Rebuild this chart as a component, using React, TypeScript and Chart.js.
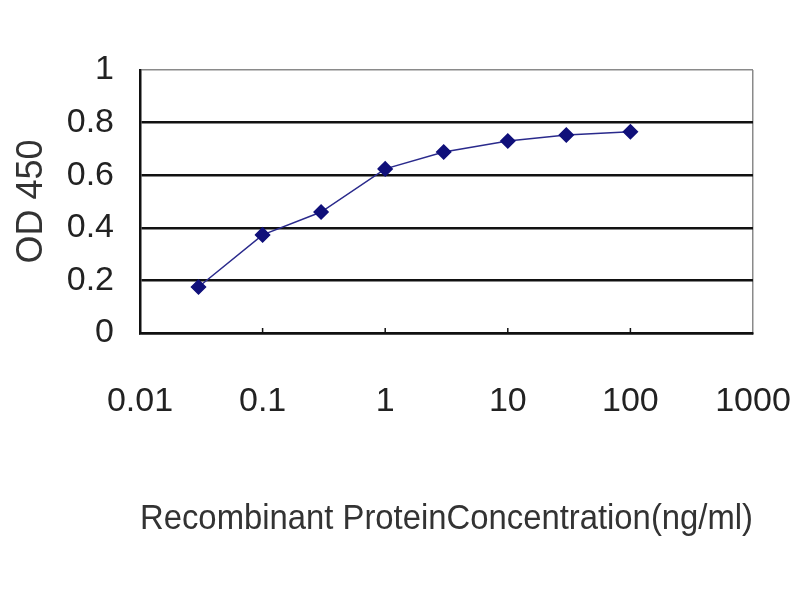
import React, { useEffect, useRef } from "react";
import { Chart, registerables } from "chart.js";

Chart.register(...registerables);

const concentrations = [0.03, 0.1, 0.3, 1, 3, 10, 30, 100];
const odValues = [0.175, 0.373, 0.46, 0.624, 0.688, 0.73, 0.753, 0.765];
const xTickValues = [0.01, 0.1, 1, 10, 100, 1000];
const yTickValues = [0, 0.2, 0.4, 0.6, 0.8, 1];
const xTitle = "Recombinant ProteinConcentration(ng/ml)";
const yTitle = "OD 450";

const FONT = "'Liberation Sans', Arial, sans-serif";

const innerTicks = {
  id: "innerTicks",
  afterDraw(chart: any) {
    const { ctx, chartArea } = chart;
    const xs = chart.scales.x;
    ctx.save();
    ctx.strokeStyle = "#111";
    ctx.lineWidth = 1.5;
    xTickValues.slice(1, -1).forEach((v) => {
      const px = xs.getPixelForValue(v);
      ctx.beginPath();
      ctx.moveTo(px, chartArea.bottom);
      ctx.lineTo(px, chartArea.bottom - 5);
      ctx.stroke();
    });
    ctx.restore();
  },
};

export default function App() {
  const ref = useRef<HTMLCanvasElement | null>(null);
  useEffect(() => {
    document.body.style.margin = "0";
    const chart = new Chart(ref.current as HTMLCanvasElement, {
      type: "line",
      data: {
        datasets: [
          {
            data: concentrations.map((c, i) => ({ x: c, y: odValues[i] })),
            borderColor: "#2a2a8c",
            backgroundColor: "#10107a",
            borderWidth: 1.5,
            pointStyle: "rectRot",
            pointRadius: 7,
            pointBorderColor: "#10107a",
            pointBackgroundColor: "#10107a",
            tension: 0,
          },
        ],
      },
      plugins: [innerTicks],
      options: {
        animation: false,
        responsive: false,
        layout: { padding: { top: 70, right: 47, left: 0, bottom: 0 } },
        plugins: { legend: { display: false }, tooltip: { enabled: false } },
        scales: {
          x: {
            type: "logarithmic",
            min: 0.01,
            max: 1000,
            afterBuildTicks: (s: any) => {
              s.ticks = xTickValues.map((v) => ({ value: v }));
            },
            afterFit: (s: any) => {
              s.height = 267;
              s.paddingLeft = 0;
              s.paddingRight = 0;
            },
            ticks: {
              autoSkip: false,
              maxRotation: 0,
              padding: 48,
              color: "#222",
              font: { family: FONT, size: 34 },
              callback: (v: any) => String(Number(v)),
            },
            grid: {
              drawOnChartArea: true,
              tickLength: 0,
              lineWidth: 1.5,
              color: (c: any) => (c.tick && c.tick.value === 1000 ? "#8a8a8a" : "rgba(0,0,0,0)"),
            },
            border: { display: true, color: "#111", width: 2.5 },
            title: {
              display: true,
              text: xTitle,
              color: "#333",
              font: { family: FONT, size: 35 },
              padding: { top: 88, bottom: 60 },
            },
          },
          y: {
            type: "linear",
            min: 0,
            max: 1,
            afterBuildTicks: (s: any) => {
              s.ticks = yTickValues.map((v) => ({ value: v }));
            },
            afterFit: (s: any) => {
              s.width = 140;
            },
            ticks: {
              padding: 26,
              color: "#222",
              font: { family: FONT, size: 34 },
              callback: (v: any) => String(Number(v)),
            },
            grid: {
              tickLength: 0,
              lineWidth: (c: any) => (c.tick && c.tick.value === 1 ? 1.5 : 2.5),
              color: (c: any) => (c.tick && c.tick.value === 1 ? "#8a8a8a" : "#111"),
            },
            border: { display: true, color: "#111", width: 2.5 },
            title: {
              display: true,
              text: yTitle,
              color: "#333",
              font: { family: FONT, size: 36 },
              padding: { top: 10, bottom: 6 },
            },
          },
        },
      },
    });
    return () => chart.destroy();
  }, []);
  return <canvas ref={ref} width={800} height={600} style={{ display: "block" }} />;
}
